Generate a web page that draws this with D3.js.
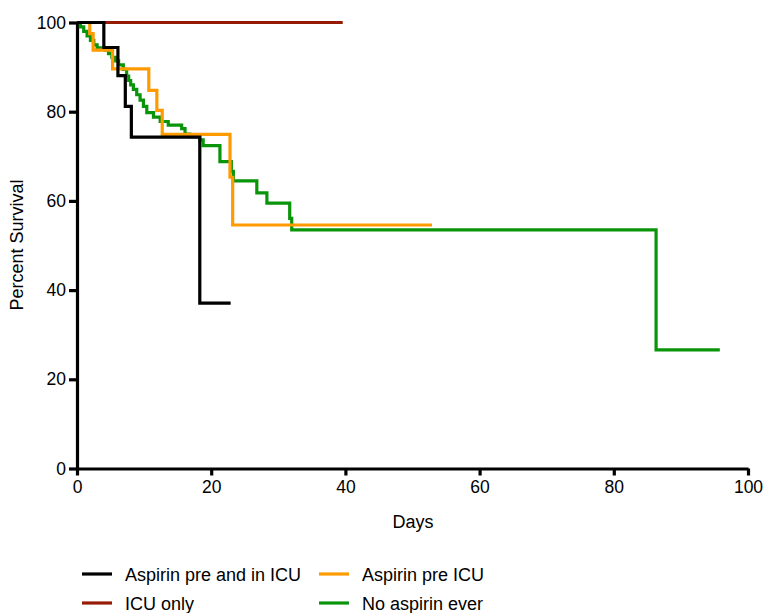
<!DOCTYPE html>
<html lang="en">
<head>
    <meta charset="UTF-8">
    <title>Percent Survival</title>
    <script src="https://d3js.org/d3.v7.min.js"></script>
    <style>
        body { margin: 0; background: #fff; }
        text { font-family: "Liberation Sans", Arial, sans-serif; fill: #000; }
    </style>
</head>
<body>
    <div id="chart"></div>

    <script>
        // step points: [day, percent] (value holds from that day on), last entry = end of follow-up
        const seriesNames = ["Aspirin pre and in ICU", "ICU only", "Aspirin pre ICU", "No aspirin ever"];
        const seriesColors = ["#000000", "#961b06", "#ff9a00", "#0a940a"];

        const aspirinPreAndIn = [[0, 100], [4, 94.4], [6.1, 88.1], [7.2, 81.2], [8.1, 74.3], [18.3, 37.1], [22.9, 37.1]];
        const icuOnly = [[0, 100], [39.6, 100]];
        const aspirinPre = [[0, 100], [1.9, 97.5], [2.4, 93.8], [5.3, 89.6], [10.7, 84.8], [11.9, 80.3],
            [12.7, 74.9], [22.8, 65.3], [23.2, 54.6], [52.9, 54.6]];
        const noAspirin = [[0, 100], [0.5, 99], [1, 98], [1.5, 97], [2, 96], [2.5, 95], [3, 94.3], [4.2, 93.8],
            [4.7, 93], [5.2, 92.2], [5.7, 91.4], [6.2, 90.5], [6.9, 89.5], [7.4, 88], [7.7, 87], [8, 86],
            [8.4, 85], [8.9, 83.8], [9.4, 82.6], [9.9, 81.2], [10.4, 79.8], [11.4, 78.8], [12.4, 77.8],
            [13.6, 77], [15.6, 76.2], [16.1, 75], [16.8, 74.4], [18.3, 73.7], [18.8, 72.4], [21.3, 68.8],
            [23.0, 66.6], [23.3, 64.5], [26.8, 61.8], [28.3, 59.5], [31.7, 56.1], [32, 53.5], [86.3, 26.6],
            [95.8, 26.6]];

        const xTicks = [0, 20, 40, 60, 80, 100];
        const yTicks = [0, 20, 40, 60, 80, 100];

        const width = 767, height = 613;
        const svg = d3.select("#chart").append("svg")
            .attr("width", width)
            .attr("height", height);

        const x = d3.scaleLinear().domain([0, 100]).range([77, 748]);
        const y = d3.scaleLinear().domain([0, 100]).range([468.5, 22.5]);

        // axes
        const xAxis = svg.append("g")
            .attr("transform", `translate(0,${y(0)})`)
            .call(d3.axisBottom(x).tickValues(xTicks).tickSize(7).tickPadding(4).tickSizeOuter(0));
        const yAxis = svg.append("g")
            .attr("transform", `translate(${x(0)},0)`)
            .call(d3.axisLeft(y).tickValues(yTicks).tickSize(8).tickPadding(3).tickSizeOuter(0));

        [xAxis, yAxis].forEach(g => {
            g.select(".domain").attr("stroke", "#000").attr("stroke-width", 3.2);
            g.selectAll(".tick line").attr("stroke", "#000").attr("stroke-width", 3.2);
            g.selectAll(".tick text").attr("font-size", 17.5).attr("font-family", "Liberation Sans, Arial, sans-serif");
        });
        xAxis.selectAll(".tick text").attr("dy", "0.78em");

        svg.append("text")
            .attr("x", 413).attr("y", 528)
            .attr("text-anchor", "middle")
            .attr("font-size", 18)
            .text("Days");

        svg.append("text")
            .attr("transform", "translate(23,245) rotate(-90)")
            .attr("text-anchor", "middle")
            .attr("font-size", 18)
            .text("Percent Survival");

        // survival curves
        const line = d3.line()
            .x(d => x(d[0]))
            .y(d => y(d[1]))
            .curve(d3.curveStepAfter);

        const allSeries = [icuOnly, noAspirin, aspirinPre, aspirinPreAndIn];
        const allColors = [seriesColors[1], seriesColors[3], seriesColors[2], seriesColors[0]];

        svg.selectAll("path.curve")
            .data(allSeries)
            .enter()
            .append("path")
            .attr("class", "curve")
            .attr("d", line)
            .attr("fill", "none")
            .attr("stroke", (d, i) => allColors[i])
            .attr("stroke-width", 3.2);

        // legend
        const legendPos = [[82, 574], [82, 603], [319, 574], [319, 603]];
        const legend = svg.selectAll("g.legend")
            .data(seriesNames)
            .enter()
            .append("g")
            .attr("class", "legend")
            .attr("transform", (d, i) => `translate(${legendPos[i][0]},${legendPos[i][1]})`);

        legend.append("line")
            .attr("x1", 0).attr("x2", 30)
            .attr("stroke", (d, i) => seriesColors[i])
            .attr("stroke-width", 3.2);

        legend.append("text")
            .attr("x", 43).attr("y", 6.5)
            .attr("font-size", 18)
            .text(d => d);
    </script>
</body>
</html>
